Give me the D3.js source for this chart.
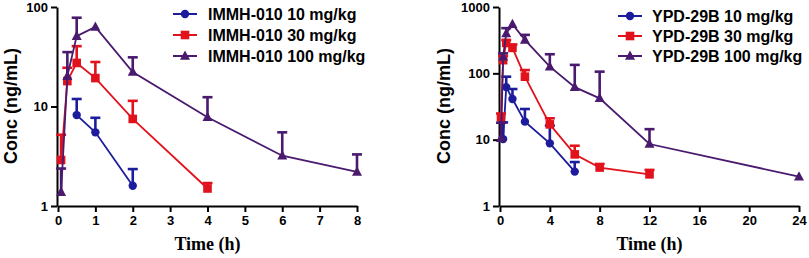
<!DOCTYPE html>
<html>
<head>
<meta charset="utf-8">
<script src="https://cdn.jsdelivr.net/npm/d3@7"></script>
<style>
  body { margin: 0; background: #fff; }
  svg { display: block; }
  .axis path, .axis line { stroke: #000; stroke-width: 2px; }
  .axis text { font: bold 13px Arial, "Liberation Sans", sans-serif; fill: #000; }
</style>
</head>
<body>
<div id="chart"></div>
<script>
// IMMH-010 (left panel)
const immhTime10 = [0.5, 1, 2];
const immhConc10 = [8.2, 5.5, 1.6];
const immhSd10 = [3.7, 2.2, 0.75];

const immhTime30 = [0.083, 0.25, 0.5, 1, 2, 4];
const immhConc30 = [2.9, 18, 27.4, 19.3, 7.5, 1.5];
const immhSd30 = [2.3, 6.5, 13, 8.7, 3.9, 0.2];

const immhTime100 = [0.083, 0.25, 0.5, 1, 2, 4, 6, 8];
const immhConc100 = [1.38, 20.2, 51, 63, 22.2, 7.8, 3.2, 2.2];
const immhSd100 = [1.0, 15, 27, 0, 9, 4.6, 2.3, 1.1];

// YPD-29B (right panel)
const ypdTime10 = [0.25, 0.5, 1, 2, 4, 6];
const ypdConc10 = [10.2, 62, 41, 18.7, 8.8, 3.3];
const ypdSd10 = [8, 27, 17, 10.3, 7.5, 1.3];

const ypdTime30 = [0.083, 0.25, 0.5, 1, 2, 4, 6, 8, 12];
const ypdConc30 = [21.8, 158, 287, 242, 89, 17, 6.0, 3.8, 3.0];
const ypdSd30 = [3, 25, 30, 30, 23, 4, 2.1, 0.5, 0.5];

const ypdTime100 = [0.083, 0.25, 0.5, 1, 2, 4, 6, 8, 12, 24];
const ypdConc100 = [10.5, 178, 400, 550, 320, 126, 62, 42, 8.6, 2.77];
const ypdSd100 = [7.5, 22, 80, 0, 60, 68, 72, 64, 5.8, 0];

const leftXTicks = [0, 1, 2, 3, 4, 5, 6, 7, 8];
const rightXTicks = [0, 4, 8, 12, 16, 20, 24];
const leftYTicks = [1, 10, 100];
const rightYTicks = [1, 10, 100, 1000];

const colors = { blue: "#1c1c9c", red: "#e2121c", purple: "#4a1a6e" };

const width = 809, height = 258;
const svg = d3.select("#chart").append("svg")
    .attr("width", width)
    .attr("height", height);

function zipSeries(times, conc, sd) {
    return times.map((t, i) => ({ t: t, c: conc[i], sd: sd[i] }));
}

// draw one marker shape centred at 0,0
function drawMarker(g, shape, color) {
    if (shape === "circle") {
        g.append("circle").attr("r", 4.2).attr("fill", color);
    } else if (shape === "square") {
        g.append("rect").attr("x", -4.3).attr("y", -4.3).attr("width", 8.6).attr("height", 8.6).attr("fill", color);
    } else {
        g.append("path").attr("d", "M0,-5.5L5,3.8L-5,3.8Z").attr("fill", color);
    }
}

function drawPanel(opt) {
    const x = d3.scaleLinear().domain(opt.xDomain).range(opt.xRange);
    const y = d3.scaleLog().domain(opt.yDomain).range([206, 7]);

    const g = svg.append("g");

    // axes
    g.append("g")
        .attr("class", "axis")
        .attr("transform", `translate(0,${y(opt.yDomain[0])})`)
        .call(d3.axisBottom(x).tickValues(opt.xTicks).tickSize(6).tickSizeOuter(0).tickPadding(4).tickFormat(d3.format("d")));

    g.append("g")
        .attr("class", "axis")
        .attr("transform", `translate(${x(0) - 1},0)`)
        .call(d3.axisLeft(y).tickValues(opt.yTicks).tickSize(6).tickSizeOuter(0).tickPadding(3).tickFormat(d3.format("d")));

    // axis titles
    g.append("text")
        .attr("transform", `translate(${opt.yLabelX},${106}) rotate(-90)`)
        .attr("text-anchor", "middle")
        .style("font", "bold 18px Arial, 'Liberation Sans', sans-serif")
        .text("Conc (ng/mL)");

    g.append("text")
        .attr("x", (opt.xRange[0] + opt.xRange[1]) / 2)
        .attr("y", 250)
        .attr("text-anchor", "middle")
        .style("font", "bold 18px 'Times New Roman', 'Liberation Serif', serif")
        .text("Time (h)");

    const line = d3.line().x(d => x(d.t)).y(d => y(d.c));

    opt.series.forEach((s, si) => {
        const data = s.data;
        const sg = g.append("g");

        // upper error bars only
        const eb = sg.selectAll(".err")
            .data(data.filter(d => d.sd > 0))
            .join("g");
        eb.append("line")
            .attr("x1", d => x(d.t)).attr("x2", d => x(d.t))
            .attr("y1", d => y(d.c)).attr("y2", d => y(d.c + d.sd))
            .attr("stroke", s.color).attr("stroke-width", 2.6);
        eb.append("line")
            .attr("x1", d => x(d.t) - 5).attr("x2", d => x(d.t) + 5)
            .attr("y1", d => y(d.c + d.sd)).attr("y2", d => y(d.c + d.sd))
            .attr("stroke", s.color).attr("stroke-width", 2.6);

        sg.append("path")
            .datum(data)
            .attr("d", line)
            .attr("fill", "none")
            .attr("stroke", s.color)
            .attr("stroke-width", 1.8);

        sg.selectAll(".mk")
            .data(data)
            .join("g")
            .attr("transform", d => `translate(${x(d.t)},${y(d.c)})`)
            .each(function() { drawMarker(d3.select(this), s.shape, s.color); });

        // legend entry
        const ly = opt.legendY[si];
        const lg = g.append("g");
        lg.append("line")
            .attr("x1", opt.legendX).attr("x2", opt.legendX + 24)
            .attr("y1", ly).attr("y2", ly)
            .attr("stroke", s.color).attr("stroke-width", 2);
        drawMarker(lg.append("g").attr("transform", `translate(${opt.legendX + 12},${ly})`), s.shape, s.color);
        lg.append("text")
            .attr("x", opt.legendTextX)
            .attr("y", ly + 5.5)
            .style("font", "bold 16px Arial, 'Liberation Sans', sans-serif")
            .text(s.name);
    });
}

drawPanel({
    xDomain: [0, 8], xRange: [58, 357],
    yDomain: [1, 100],
    xTicks: leftXTicks, yTicks: leftYTicks,
    yLabelX: 17,
    legendX: 173, legendTextX: 208, legendY: [14, 35, 56],
    series: [
        { name: "IMMH-010 10 mg/kg", color: colors.blue, shape: "circle", data: zipSeries(immhTime10, immhConc10, immhSd10) },
        { name: "IMMH-010 30 mg/kg", color: colors.red, shape: "square", data: zipSeries(immhTime30, immhConc30, immhSd30) },
        { name: "IMMH-010 100 mg/kg", color: colors.purple, shape: "triangle", data: zipSeries(immhTime100, immhConc100, immhSd100) }
    ]
});

drawPanel({
    xDomain: [0, 24], xRange: [500, 799],
    yDomain: [1, 1000],
    xTicks: rightXTicks, yTicks: rightYTicks,
    yLabelX: 450,
    legendX: 618, legendTextX: 652, legendY: [16, 36, 56],
    series: [
        { name: "YPD-29B 10 mg/kg", color: colors.blue, shape: "circle", data: zipSeries(ypdTime10, ypdConc10, ypdSd10) },
        { name: "YPD-29B 30 mg/kg", color: colors.red, shape: "square", data: zipSeries(ypdTime30, ypdConc30, ypdSd30) },
        { name: "YPD-29B 100 mg/kg", color: colors.purple, shape: "triangle", data: zipSeries(ypdTime100, ypdConc100, ypdSd100) }
    ]
});
</script>
</body>
</html>
